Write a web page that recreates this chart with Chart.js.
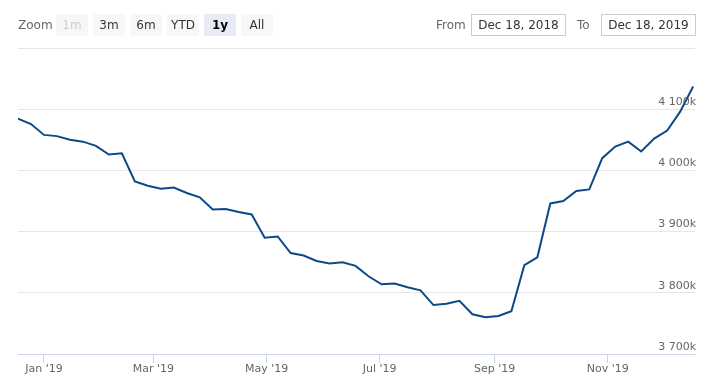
<!DOCTYPE html>
<html>
<head>
<meta charset="utf-8">
<script src="https://cdn.jsdelivr.net/npm/chart.js@4"></script>
<style>
  body { margin: 0; background: #fff; }
  #wrap { position: relative; width: 723px; height: 391px; font-family: "DejaVu Sans", Verdana, sans-serif; }
  #chart { position: absolute; left: 0; top: 0; }
  .lbl { position: absolute; top: 14px; height: 22px; line-height: 22px; font-size: 12px; color: #666; }
  .btn { position: absolute; top: 14px; width: 32px; height: 22px; line-height: 22px; font-size: 12px;
         text-align: center; background: #f7f7f7; color: #333; border-radius: 2px; }
  .btn.off { color: #ccc; }
  .btn.on { background: #e6ebf5; color: #000; font-weight: bold; }
  .box { position: absolute; top: 14px; width: 95px; height: 22px; box-sizing: border-box; border: 1px solid #ccc;
         line-height: 20px; font-size: 12px; text-align: center; color: #333; }
</style>
</head>
<body>
<div id="wrap">
  <canvas id="chart" width="723" height="391"></canvas>
  <div class="lbl" style="left:18px">Zoom</div>
  <div class="btn off" style="left:56px">1m</div>
  <div class="btn" style="left:93px">3m</div>
  <div class="btn" style="left:130px">6m</div>
  <div class="btn" style="left:167px">YTD</div>
  <div class="btn on" style="left:204px">1y</div>
  <div class="btn" style="left:241px">All</div>
  <div class="lbl" style="left:436px">From</div>
  <div class="box" style="left:471px">Dec 18, 2018</div>
  <div class="lbl" style="left:577px">To</div>
  <div class="box" style="left:601px">Dec 18, 2019</div>
</div>
<script>
// weekly observations
const dates = [
  '2018-12-18', '2018-12-25', '2019-01-01', '2019-01-08', '2019-01-15', '2019-01-22', '2019-01-29',
  '2019-02-05', '2019-02-12', '2019-02-19', '2019-02-26', '2019-03-05', '2019-03-12', '2019-03-19',
  '2019-03-26', '2019-04-02', '2019-04-09', '2019-04-16', '2019-04-23', '2019-04-30', '2019-05-07',
  '2019-05-14', '2019-05-21', '2019-05-28', '2019-06-04', '2019-06-11', '2019-06-18', '2019-06-25',
  '2019-07-02', '2019-07-09', '2019-07-16', '2019-07-23', '2019-07-30', '2019-08-06', '2019-08-13',
  '2019-08-20', '2019-08-27', '2019-09-03', '2019-09-10', '2019-09-17', '2019-09-24', '2019-10-01',
  '2019-10-08', '2019-10-15', '2019-10-22', '2019-10-29', '2019-11-05', '2019-11-12', '2019-11-19',
  '2019-11-26', '2019-12-03', '2019-12-10', '2019-12-17'
];
const values = [
  4084500, 4075800, 4058000, 4056000, 4050000, 4047000, 4040000, 4026000, 4028000, 3982000,
  3975000, 3970000, 3972000, 3963000, 3956000, 3936000, 3937000, 3932000, 3928000, 3890000,
  3892000, 3865000, 3861000, 3852000, 3848000, 3850000, 3844000, 3827000, 3814000, 3815000,
  3809000, 3804000, 3780000, 3782000, 3787000, 3765000, 3760000, 3762000, 3770000, 3845000,
  3858000, 3946000, 3950000, 3966500, 3969000, 4020000, 4039000, 4047000, 4031000, 4052000,
  4065000, 4096000, 4137000
];
const rangeFrom = '2018-12-18';
const rangeTo = '2019-12-18';
const monthTicks = ['2019-01-01', '2019-03-01', '2019-05-01', '2019-07-01', '2019-09-01', '2019-11-01'];
const monthLabels = ["Jan '19", "Mar '19", "May '19", "Jul '19", "Sep '19", "Nov '19"];

// day number relative to 1 Jan 2019
const dayOf = s => {
  const [y, m, d] = s.split('-').map(Number);
  return (Date.UTC(y, m - 1, d) - Date.UTC(2019, 0, 1)) / 86400000;
};

const fmtK = v => String(Math.round(v / 1000)).replace(/\B(?=(\d{3})+(?!\d))/g, ' ') + 'k';

new Chart(document.getElementById('chart'), {
  type: 'line',
  data: {
    datasets: [{
      data: dates.map((d, i) => ({ x: dayOf(d), y: values[i] })),
      borderColor: '#0b4a86',
      borderWidth: 2,
      pointRadius: 0,
      fill: false,
      tension: 0
    }]
  },
  options: {
    responsive: false,
    animation: false,
    layout: { padding: { left: 18, top: 48, right: 0, bottom: 0 } },
    plugins: { legend: { display: false }, tooltip: { enabled: false } },
    scales: {
      x: {
        type: 'linear',
        min: dayOf(rangeFrom),
        max: dayOf(rangeTo),
        afterBuildTicks: s => { s.ticks = monthTicks.map(d => ({ value: dayOf(d) })); },
        afterFit: s => { s.height = 37; },
        grid: { drawOnChartArea: false, tickLength: 9, color: '#ccd6eb' },
        border: { color: '#ccd6eb' },
        ticks: {
          autoSkip: false, maxRotation: 0, padding: 0, color: '#666',
          font: { family: 'DejaVu Sans', size: 11 },
          callback: (v, i) => monthLabels[i]
        }
      },
      y: {
        position: 'right',
        min: 3700000,
        max: 4200000,
        afterFit: s => { s.width = 28; },
        border: { display: false },
        grid: {
          drawTicks: false,
          color: c => (c.tick && c.tick.value === 3700000) ? 'rgba(0,0,0,0)' : '#e6e6e6'
        },
        ticks: {
          stepSize: 100000, mirror: true, padding: 1, labelOffset: -7, color: '#666',
          font: { family: 'DejaVu Sans', size: 11 },
          callback: v => v >= 4200000 ? '' : fmtK(v)
        }
      }
    }
  }
});
</script>
</body>
</html>
